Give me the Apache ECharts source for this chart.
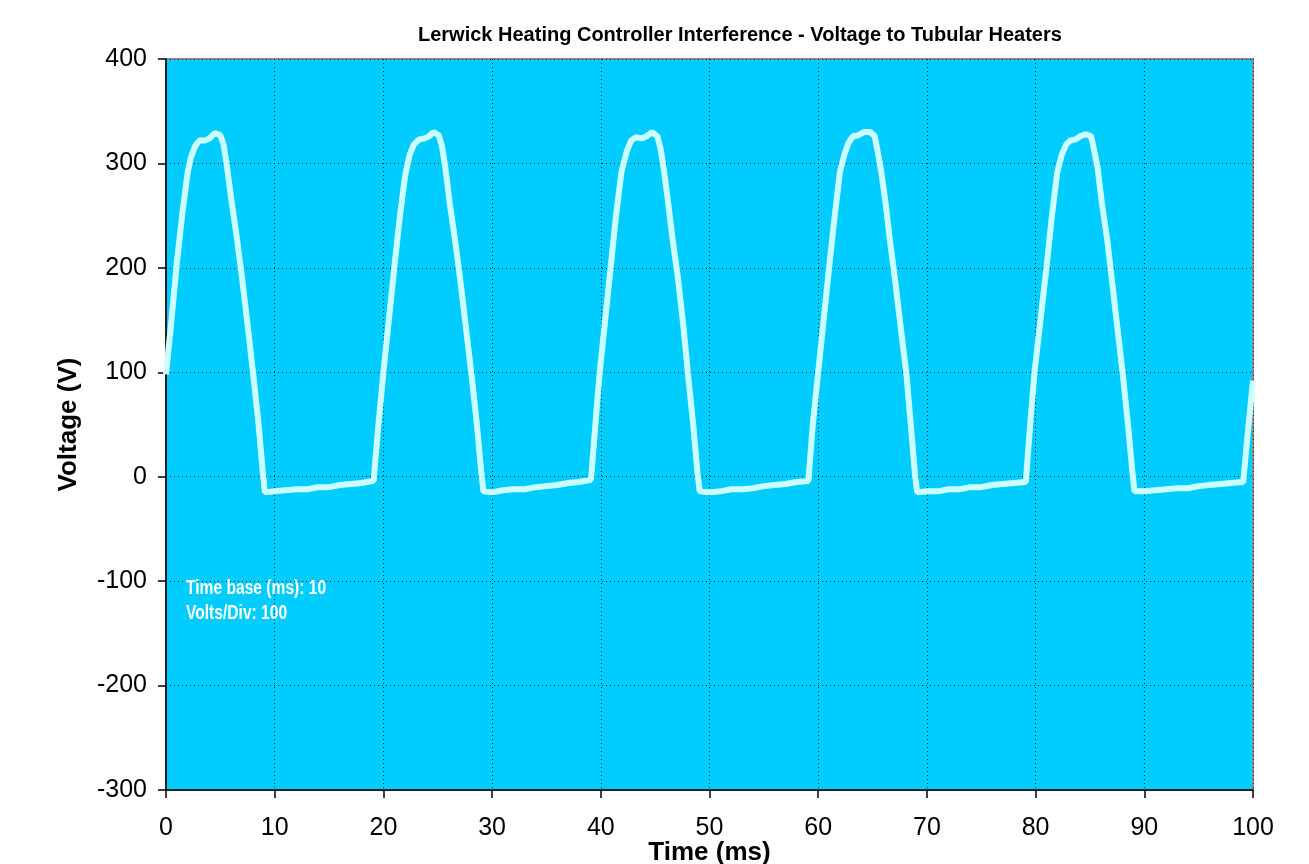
<!DOCTYPE html>
<html>
<head>
<meta charset="utf-8">
<script src="https://cdn.jsdelivr.net/npm/echarts@6/dist/echarts.min.js"></script>
<style>html,body{margin:0;padding:0;background:#fff;}#chart{width:1309px;height:864px;}</style>
</head>
<body>
<div id="chart"></div>
<script>
const chartTitle = 'Lerwick Heating Controller Interference - Voltage to Tubular Heaters';
const xAxisTitle = 'Time (ms)';
const yAxisTitle = 'Voltage (V)';
const noteLines = ['Time base (ms): 10', 'Volts/Div: 100'];

const timeMs = [
  0, 0.5, 1.0, 1.5, 2.0, 2.3, 2.7, 3.1, 3.6, 4.0, 4.5, 5.0, 5.3, 5.6, 6.0, 6.5, 7.0, 7.5, 8.0, 8.5, 8.9, 9.1,
  10, 11, 12, 13, 14, 15, 16, 17, 18, 19.1,
  19.5, 20.0, 20.5, 21.0, 21.5, 22.0, 22.4, 22.8, 23.3, 23.8, 24.2, 24.6, 25.1, 25.4, 25.7, 26.1, 26.6, 27.1, 27.6, 28.1, 28.6, 29.0, 29.2,
  30, 31, 32, 33, 34, 35, 36, 37, 38, 39.1,
  39.5, 39.9, 40.4, 40.9, 41.4, 41.9, 42.4, 42.8, 43.2, 43.8, 44.2, 44.7, 45.2, 45.5, 45.8, 46.2, 46.6, 47.1, 47.6, 48.0, 48.5, 48.9, 49.1,
  50, 51, 52, 53, 54, 55, 56, 57, 58, 59.1,
  59.5, 60.0, 60.5, 61.0, 61.5, 62.0, 62.4, 62.8, 63.2, 63.7, 64.2, 64.8, 65.2, 65.5, 65.8, 66.2, 66.6, 67.1, 67.6, 68.1, 68.5, 68.9, 69.1,
  70, 71, 72, 73, 74, 75, 76, 77, 78, 79.1,
  79.5, 79.9, 80.5, 81.0, 81.5, 82.0, 82.4, 82.8, 83.2, 83.7, 84.1, 84.6, 85.1, 85.4, 85.7, 86.1, 86.6, 87.0, 87.5, 88.0, 88.5, 88.9, 89.1,
  90, 91, 92, 93, 94, 95, 96, 97, 98, 99.1, 99.5, 100
];
const volts = [
  98, 150, 205, 252, 292, 306, 317, 322, 322, 324, 329, 327, 318, 298, 266, 230, 190, 146, 100, 52, 5, -15,
  -14, -13, -12, -12, -10, -10, -8, -7, -6, -4,
  45, 100, 150, 200, 248, 288, 308, 318, 323, 324, 326, 330, 327, 316, 296, 262, 226, 186, 142, 98, 50, 5, -14,
  -15, -13, -12, -12, -10, -9, -8, -6, -5, -3,
  50, 100, 150, 200, 250, 292, 312, 322, 325, 324, 326, 330, 326, 314, 294, 262, 228, 190, 144, 100, 50, 3, -14,
  -15, -14, -12, -12, -11, -9, -8, -7, -5, -4,
  50, 100, 150, 200, 248, 292, 308, 320, 326, 327, 330, 330, 326, 310, 292, 262, 226, 186, 142, 100, 52, 3, -15,
  -14, -14, -12, -12, -10, -10, -8, -7, -6, -5,
  50, 100, 155, 200, 250, 292, 308, 318, 322, 323, 326, 328, 326, 312, 296, 262, 226, 190, 145, 100, 50, 5, -14,
  -14, -13, -12, -11, -11, -9, -8, -7, -6, -5, 40, 92
];
const xTicks = {min: 0, max: 100, step: 10};
const yTicks = {min: -300, max: 400, step: 100};

const FONT = 'Liberation Sans, Arial, sans-serif';
const chart = echarts.init(document.getElementById('chart'));
const seriesData = timeMs.map((t, i) => [t, volts[i]]);

chart.setOption({
  animation: false,
  backgroundColor: '#ffffff',
  grid: {
    left: 166, right: 56, top: 59, bottom: 74,
    containLabel: false, outerBoundsMode: 'none',
    show: true, backgroundColor: '#00CCFF', borderColor: '#8a8a8a', borderWidth: 2
  },
  xAxis: {
    type: 'value', min: xTicks.min, max: xTicks.max, interval: xTicks.step,
    name: xAxisTitle, nameLocation: 'middle', nameGap: 50, nameMoveOverlap: false,
    nameTextStyle: {fontFamily: FONT, fontSize: 26, fontWeight: 'bold', color: '#000'},
    axisLine: {show: true, onZero: false, lineStyle: {color: '#000', width: 1.5}},
    axisTick: {show: true, length: 8, lineStyle: {color: '#000', width: 1.5}},
    axisLabel: {fontFamily: FONT, fontSize: 25, color: '#000', margin: 26},
    splitLine: {show: true, lineStyle: {color: '#00334d', width: 1, type: [1, 3]}}
  },
  yAxis: {
    type: 'value', min: yTicks.min, max: yTicks.max, interval: yTicks.step,
    name: yAxisTitle, nameLocation: 'middle', nameGap: 84, nameMoveOverlap: false,
    nameTextStyle: {fontFamily: FONT, fontSize: 26, fontWeight: 'bold', color: '#000'},
    axisLine: {show: true, onZero: false, lineStyle: {color: '#000', width: 1.5}},
    axisTick: {show: true, length: 8, lineStyle: {color: '#000', width: 1.5}},
    axisLabel: {fontFamily: FONT, fontSize: 25, color: '#000', margin: 19},
    splitLine: {show: true, lineStyle: {color: '#00334d', width: 1, type: [1, 3]}}
  },
  graphic: [
    {type: 'text', left: 418, top: 25, style: {text: chartTitle, fontFamily: FONT, fontSize: 20, fontWeight: 'bold', fill: '#000'}},
    {type: 'text', x: 186, y: 578, scaleX: 0.78, style: {text: noteLines[0], fontFamily: FONT, fontSize: 20, fontWeight: 'bold', fill: '#fff'}, z: 10},
    {type: 'text', x: 186, y: 603, scaleX: 0.78, style: {text: noteLines[1], fontFamily: FONT, fontSize: 20, fontWeight: 'bold', fill: '#fff'}, z: 10}
  ],
  series: [{
    type: 'line', data: seriesData, showSymbol: false, symbol: 'none',
    lineStyle: {color: '#CCFFFF', width: 6}, clip: true, z: 5
  }]
});
</script>
</body>
</html>
